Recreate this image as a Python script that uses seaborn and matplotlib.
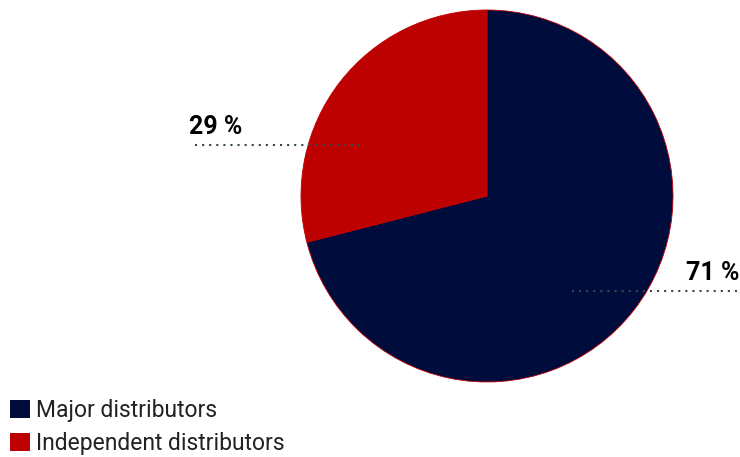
import matplotlib as mpl
mpl.use('Agg')
import matplotlib.pyplot as plt
from matplotlib.patches import Patch
import seaborn as sns

labels = ['Major distributors', 'Independent distributors']
shares = [71, 29]
colors = ['#000c3c', '#bd0000']

sns.set_theme(style='white')
plt.rcParams['font.family'] = ['Roboto', 'DejaVu Sans']

fig = plt.figure(figsize=(7.4, 4.57), dpi=100)
# pie centred at (487, 196) px, radius 186 px
cx, cy, r = 487 / 740, 1 - 196 / 457, 186
ax = fig.add_axes([cx - r / 740, cy - r / 457, 2 * r / 740, 2 * r / 457])
ax.pie(shares, colors=colors, startangle=90, counterclock=False,
       wedgeprops=dict(edgecolor='#bd0000', linewidth=0.6))
ax.set_xlim(-1, 1)
ax.set_ylim(-1, 1)
ax.set_aspect('auto')
ax.axis('off')

dot = dict(color='#37474f', linestyle=(0, (1, 2.4)), linewidth=1.5, clip_on=False)
ax.plot([-1.57, -0.656], [0.274, 0.274], **dot)
ax.text(-1.60, 0.37, f'{shares[1]} %', ha='left', va='center',
        fontsize=18, fontweight='bold', color='black')
ax.plot([0.457, 1.36], [-0.511, -0.511], **dot)
ax.text(1.36, -0.415, f'{shares[0]} %', ha='right', va='center',
        fontsize=18, fontweight='bold', color='black')

handles = [Patch(facecolor=c, edgecolor='none') for c in colors]
fig.legend(handles, labels, loc='lower left', bbox_to_anchor=(0.0, -0.018),
           frameon=False, prop=dict(size=16.5, weight='normal'),
           handlelength=0.85, handleheight=0.85,
           handletextpad=0.25, labelspacing=0.42, borderaxespad=0.3,
           borderpad=0.15)
for t in fig.legends[0].get_texts():
    t.set_color('#222222')

fig.savefig('out.png', dpi=100)
